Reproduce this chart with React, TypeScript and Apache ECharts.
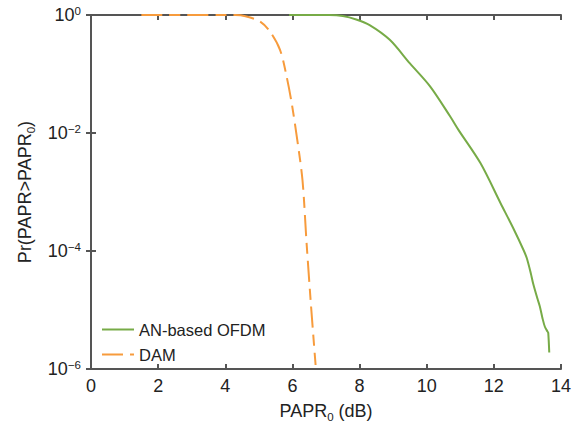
import React, { useEffect, useRef } from 'react';
import * as echarts from 'echarts';

// AN-based OFDM CCDF (x in dB, y probability)
const anX = [5.9, 6.6, 7.1, 7.5, 7.9, 8.3, 8.9, 9.5, 10.1, 10.7, 10.95, 11.6, 12.2, 12.6, 12.88, 12.98, 13.1, 13.17, 13.3, 13.37, 13.45, 13.52, 13.6, 13.62, 13.65];
const anY = [1, 1, 0.998, 0.96, 0.84, 0.676, 0.38, 0.151, 0.0617, 0.019, 0.0112, 0.00309, 0.000646, 0.000229, 0.000105, 0.0000759, 0.000042, 0.0000282, 0.0000155, 0.0000115, 0.0000072, 0.0000052, 0.0000043, 0.0000041, 0.0000019];

// DAM CCDF
const damX = [1.5, 4.3, 4.6, 5.03, 5.33, 5.63, 5.83, 5.98, 6.13, 6.3, 6.42, 6.55, 6.69];
const damY = [1, 1, 0.955, 0.776, 0.525, 0.257, 0.089, 0.0316, 0.0087, 0.00158, 0.000141, 0.0000126, 0.00000117];

const xMin = 0;
const xMax = 14;
const xStep = 2;
const yMin = 1e-6;
const yMax = 1;

const seriesNames = ['AN-based OFDM', 'DAM'];
const colors = ['#77ab47', '#f79b3c'];

const FONT = 'Liberation Sans, Arial, Helvetica, sans-serif';
const AXIS_COLOR = '#555555';
const TEXT_COLOR = '#222222';

export default function App() {
  const ref = useRef<HTMLDivElement>(null);

  useEffect(() => {
    if (!ref.current) return;
    const chart = echarts.init(ref.current, null, { renderer: 'svg' });

    const anData = anX.map((x, i) => [x, anY[i]]);
    const damData = damX.map((x, i) => [x, damY[i]]);

    const supLabel = (v: number) => {
      const e = Math.round(Math.log10(v));
      const s = e < 0 ? '\u2212' + Math.abs(e) : String(e);
      return '{base|10}{sup|' + s + '}';
    };

    const tickRich = {
      base: { fontSize: 18, fontFamily: FONT, color: TEXT_COLOR },
      sup: { fontSize: 11.5, fontFamily: FONT, color: TEXT_COLOR, padding: [0, 0, 9, 0] },
    };

    const nameRich = {
      base: { fontSize: 18, fontFamily: FONT, color: TEXT_COLOR, lineHeight: 21 },
      sub: { fontSize: 11.5, fontFamily: FONT, color: TEXT_COLOR, lineHeight: 11, padding: [11, 0, 0, 0] },
    };

    const axisLine = { show: true, lineStyle: { color: AXIS_COLOR, width: 2 } };
    const axisTick = { show: true, inside: true, length: 5, lineStyle: { color: AXIS_COLOR, width: 2 } };

    chart.setOption({
      animation: false,
      backgroundColor: '#ffffff',
      textStyle: { fontFamily: FONT },
      grid: { left: 91, right: 15, top: 15, bottom: 65, containLabel: false },
      legend: {
        orient: 'vertical',
        left: 96,
        top: 316,
        itemWidth: 32,
        itemHeight: 14,
        itemGap: 8,
        itemStyle: { opacity: 0 },
        textStyle: { fontSize: 16.5, fontFamily: FONT, color: TEXT_COLOR },
        data: seriesNames,
      },
      xAxis: [
        {
          type: 'value',
          min: xMin,
          max: xMax,
          interval: xStep,
          position: 'bottom',
          axisLine,
          axisTick,
          splitLine: { show: false },
          axisLabel: { fontSize: 18, fontFamily: FONT, color: TEXT_COLOR, margin: 8 },
          name: '{base|PAPR}{sub|0}{base| (dB)}',
          nameLocation: 'middle',
          nameGap: 28,
          nameTextStyle: { rich: nameRich },
        },
        {
          type: 'value',
          min: xMin,
          max: xMax,
          interval: xStep,
          position: 'top',
          axisLine,
          axisTick,
          splitLine: { show: false },
          axisLabel: { show: false },
        },
      ],
      yAxis: [
        {
          type: 'log',
          logBase: 10,
          min: yMin,
          max: yMax,
          interval: 2,
          position: 'left',
          axisLine,
          axisTick,
          minorTick: { show: false },
          splitLine: { show: false },
          axisLabel: { formatter: supLabel, rich: tickRich, margin: 10 },
          name: '{base|Pr(PAPR>PAPR}{sub|0}{base|)}',
          nameLocation: 'middle',
          nameRotate: 90,
          nameGap: 46,
          nameTextStyle: { rich: nameRich },
        },
        {
          type: 'log',
          logBase: 10,
          min: yMin,
          max: yMax,
          interval: 2,
          position: 'right',
          axisLine,
          axisTick,
          minorTick: { show: false },
          splitLine: { show: false },
          axisLabel: { show: false },
        },
      ],
      series: [
        {
          name: seriesNames[0],
          type: 'line',
          data: anData,
          showSymbol: false,
          symbol: 'none',
          smooth: 0.3,
          clip: false,
          z: 5,
          lineStyle: { color: colors[0], width: 2 },
          itemStyle: { color: colors[0] },
        },
        {
          name: seriesNames[1],
          type: 'line',
          data: damData,
          showSymbol: false,
          symbol: 'none',
          smooth: 0.3,
          clip: false,
          z: 5,
          lineStyle: { color: colors[1], width: 2, type: [21, 7, 11, 7] },
          itemStyle: { color: colors[1] },
        },
      ],
    });

    return () => chart.dispose();
  }, []);

  return (
    <div
      ref={ref}
      style={{ position: 'fixed', left: 0, top: 0, width: 576, height: 434, background: '#fff' }}
    />
  );
}
